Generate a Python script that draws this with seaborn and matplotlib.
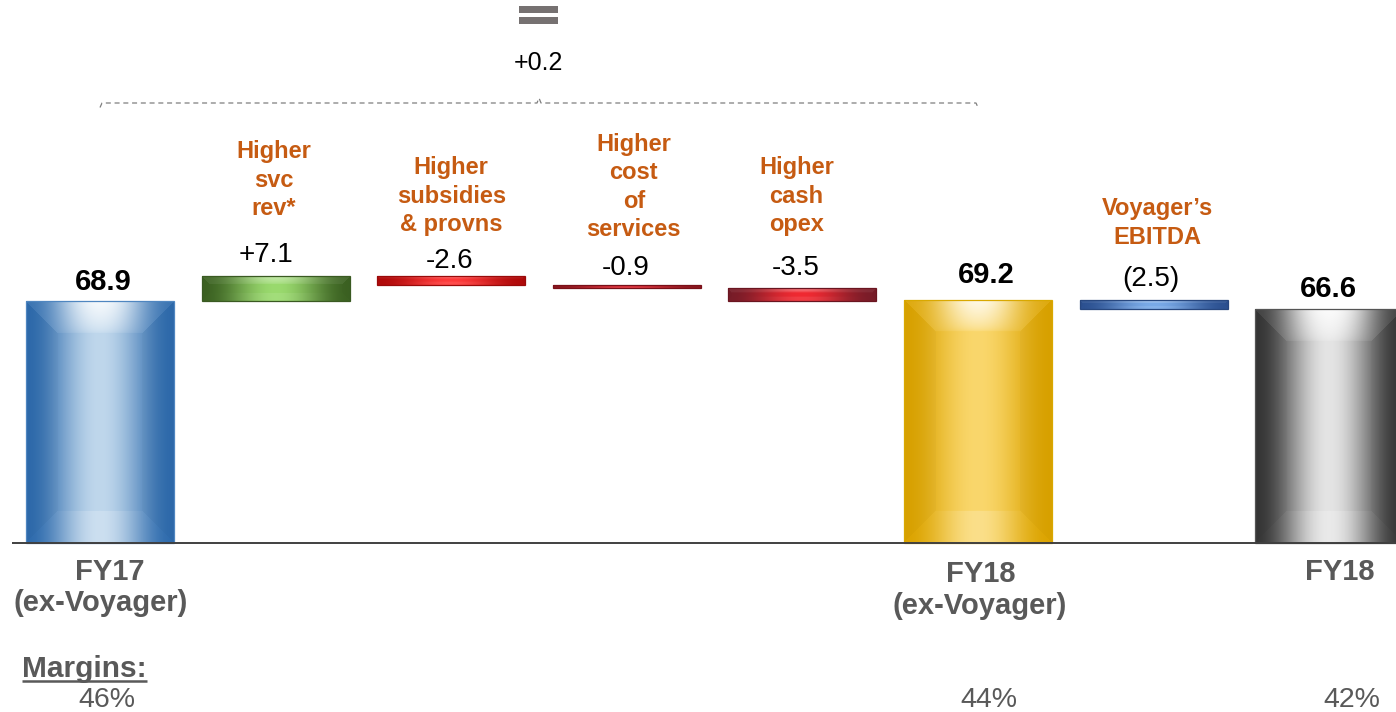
"""
EBITDA bridge FY17 (ex-Voyager) -> FY18, drawn as a bevelled waterfall.
"""

import matplotlib
matplotlib.use("Agg")
import matplotlib.pyplot as plt
from matplotlib.colors import to_rgb
from matplotlib.patches import Rectangle
import numpy as np
import pandas as pd
import seaborn as sns

sns.set_style("white")
plt.rcParams["font.family"] = ["Liberation Sans", "DejaVu Sans"]

# ---- data -------------------------------------------------------------
steps = ["FY17 (ex-Voyager)", "Higher svc rev*", "Higher subsidies & provns",
         "Higher cost of services", "Higher cash opex", "FY18 (ex-Voyager)",
         "Voyager's EBITDA", "FY18"]
is_total = [True, False, False, False, False, True, False, True]
values = [68.9, 7.1, -2.6, -0.9, -3.5, 69.2, -2.5, 66.6]
value_labels = ["68.9", "+7.1", "-2.6", "-0.9", "-3.5", "69.2", "(2.5)", "66.6"]
driver_labels = {1: ["Higher", "svc", "rev*"],
                 2: ["Higher", "subsidies", "& provns"],
                 3: ["Higher", "cost", "of", "services"],
                 4: ["Higher", "cash", "opex"],
                 6: ["Voyager\u2019s", "EBITDA"]}
total_labels = {0: ["FY17", "(ex-Voyager)"],
                5: ["FY18", "(ex-Voyager)"],
                7: ["FY18"]}
margins = {0: "46%", 5: "44%", 7: "42%"}
bridge_change = "+0.2"
bridge_span = (0, 5)

# ---- styles / layout --------------------------------------------------
W_PX, H_PX = 1396, 712
BASE_PX = 543          # pixel row of the zero line
PX_PER_UNIT = 3.512    # vertical pixels per unit of value
PX_PER_CAT = 175.6     # horizontal pixels between bar centres
FIRST_PX = 100         # pixel column of the first bar centre

bar_styles = [  # (dark, light, edge)
    ("#2E6BAD", "#BFD7EC", "#4F86C0"),
    ("#3C6222", "#9ADA6E", "#3A5A22"),
    ("#B00A0A", "#FF3B3B", "#9A0A0A"),
    ("#8A1820", "#E0303A", "#7A1018"),
    ("#781C28", "#F02A32", "#6A1520"),
    ("#DCA400", "#FAD76C", "#D9A800"),
    ("#2C5191", "#7AAAE8", "#27477F"),
    ("#363636", "#E4E4E4", "#555555"),
]
ORANGE = "#C65B12"
GREY = "#595959"

# label offsets in pixels (dx, dy above bar top to baseline)
value_offsets = [(3, 11), (-10, 14), (-2, 8), (-1, 10), (-7, 13), (8, 17), (-3, 14), (-1, 12)]
driver_offsets = {1: (-2, 117.6), 2: (0, 101.6), 3: (7, 134.7), 4: (-6, 113.9), 6: (4, 84.5)}
total_offsets = {0: [(10, 36.5), (1, 68)], 5: [(3, 39.5), (2, 71)], 7: [(11, 36.5)]}
margin_offsets = {0: 7, 5: 11, 7: 23}
PT = 0.72  # points per pixel at dpi 100


def px_y(py):
    return (BASE_PX - py) / PX_PER_UNIT


def bevel_image(w, h, dark, light, bevel, glow_amt):
    dark = np.array(to_rgb(dark))
    light = np.array(to_rgb(light))
    jj, ii = np.meshgrid(np.arange(w) + 0.5, np.arange(h) + 0.5)
    u = jj / w
    p = np.sin(np.pi * u) ** 2
    img = dark + (light - dark) * p[..., None]
    dt, db, dl, dr = ii, h - ii, jj, w - jj
    m = np.minimum.reduce([dt, db, dl, dr])
    edge = m < bevel
    top = edge & (dt == m)
    bottom = edge & (db == m) & ~top
    side = edge & ~top & ~bottom
    img[side] *= 0.98
    spot = np.exp(-((u - 0.5) / 0.22) ** 2)
    glow_t = (glow_amt * spot * np.clip(1 - dt / bevel, 0, 1) ** 0.6 + 0.06)[..., None]
    img[top] = img[top] + (1 - img[top]) * glow_t[top]
    glow_b = (0.25 * glow_amt * spot)[..., None]
    img[bottom] = img[bottom] + (1 - img[bottom]) * glow_b[bottom]
    return np.clip(img, 0, 1)


# waterfall geometry
heights, bottoms, tops = [], [], []
running = 0.0
for v, tot in zip(values, is_total):
    if tot:
        bottoms.append(0.0)
        heights.append(v)
        running = v
    else:
        bottoms.append(running + min(v, 0))
        heights.append(abs(v))
        running += v
    tops.append(bottoms[-1] + heights[-1])

df = pd.DataFrame({"step": steps, "height": heights})

fig = plt.figure(figsize=(W_PX / 100, H_PX / 100), dpi=100)
ax = fig.add_axes([0, 0, 1, 1])
sns.barplot(data=df, x="step", y="height", bottom=np.array(bottoms), color="#999999",
            width=148 / PX_PER_CAT, errorbar=None, saturation=1, ax=ax)

xlim = (-FIRST_PX / PX_PER_CAT, (W_PX - FIRST_PX) / PX_PER_CAT)
ylim = (px_y(H_PX), px_y(0))

bars = sorted(ax.patches, key=lambda p: p.get_x())
for patch, (dark, light, edge), tot in zip(bars, bar_styles, is_total):
    x0, y0 = patch.get_x(), patch.get_y()
    w, h = patch.get_width(), patch.get_height()
    wp = max(int(round(w * PX_PER_CAT)), 2)
    hp = max(int(round(h * PX_PER_UNIT)), 2)
    img = bevel_image(wp, hp, dark, light, min(32, 0.32 * hp), 0.8 if tot else 0.35)
    im = ax.imshow(img, extent=(x0, x0 + w, y0, y0 + h), origin="upper",
                   aspect="auto", interpolation="bilinear", zorder=2)
    im.set_clip_path(patch)
    patch.set_facecolor("none")
    patch.set_edgecolor(edge)
    patch.set_linewidth(0.9)
    patch.set_zorder(3)

ax.hlines(0, -0.5, xlim[1], color="#404040", lw=1.4, zorder=4)

# value labels
for i, (lab, top) in enumerate(zip(value_labels, tops)):
    dx, dy = value_offsets[i]
    ax.annotate(lab, xy=(i, top), xytext=(dx * PT, dy * PT), textcoords="offset points",
                ha="center", va="baseline", fontsize=21 if is_total[i] else 20,
                fontweight="bold" if is_total[i] else "normal", color="black")

# driver names
for i, lines in driver_labels.items():
    dx, dy = driver_offsets[i]
    for k, line in enumerate(lines):
        ax.annotate(line, xy=(i, tops[i]), xytext=(dx * PT, (dy - 28.5 * k) * PT),
                    textcoords="offset points", ha="center", va="baseline",
                    fontsize=17, fontweight="bold", color=ORANGE)

# category labels under the totals
for i, lines in total_labels.items():
    for line, (dx, dy) in zip(lines, total_offsets[i]):
        ax.annotate(line, xy=(i, 0), xytext=(dx * PT, -dy * PT), textcoords="offset points",
                    ha="center", va="baseline", fontsize=21, fontweight="bold", color=GREY)

# margins row
mtxt = ax.annotate("Margins:", xy=(0, 0), xytext=(-78 * PT, -134 * PT),
                   textcoords="offset points", ha="left", va="baseline",
                   fontsize=21.5, fontweight="bold", color=GREY)
for i, lab in margins.items():
    ax.annotate(lab, xy=(i, 0), xytext=(margin_offsets[i] * PT, -164 * PT),
                textcoords="offset points", ha="center", va="baseline",
                fontsize=20.5, color=GREY)

# bracket over the ex-Voyager bridge
a, b = bridge_span
mid = (a + b) / 2
yb = px_y(103)
drop, bump = 4.5 / PX_PER_UNIT, 5 / PX_PER_UNIT
ex = 2 / PX_PER_CAT
ax.plot([a, a + ex, mid - ex, mid, mid + ex, b - ex, b],
        [yb - drop, yb, yb, yb + bump, yb, yb, yb - drop],
        color="#7F7F7F", lw=0.9, dashes=(4, 3), zorder=4)
ax.annotate(bridge_change, xy=(mid, yb), xytext=(-1 * PT, 33 * PT), textcoords="offset points",
            ha="center", va="baseline", fontsize=18, color="black")
for top_px in (6, 17):
    ax.add_patch(Rectangle((mid - 19.5 / PX_PER_CAT, px_y(top_px + 7)), 39 / PX_PER_CAT,
                           7 / PX_PER_UNIT, color="#767171", lw=0, zorder=4))

ax.set_xlim(*xlim)
ax.set_ylim(*ylim)
ax.set_axis_off()

# underline "Margins:"
fig.canvas.draw()
bb = mtxt.get_window_extent()
inv = ax.transData.inverted()
ux0 = inv.transform((bb.x0, 0))[0]
ux1 = inv.transform((bb.x1, 0))[0]
ax.plot([ux0, ux1], [px_y(680.5)] * 2, color=GREY, lw=1.8, solid_capstyle="butt")

fig.savefig("out.png", dpi=100)
plt.close(fig)
